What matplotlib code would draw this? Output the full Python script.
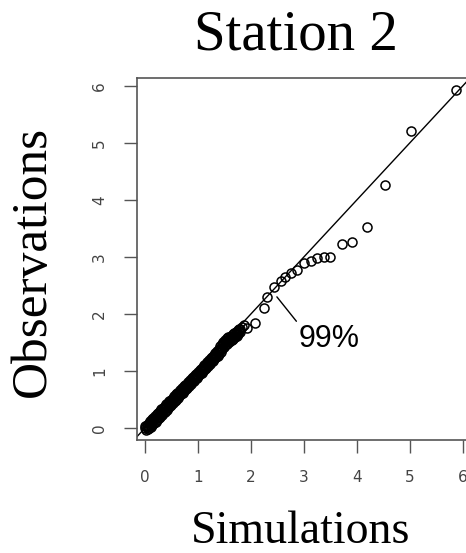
import matplotlib; matplotlib.use("Agg")
import matplotlib.pyplot as plt

# simulated vs observed quantiles, station 2 (dense part read as three overlapping rows)
sim_a = [0.00,0.03,0.06,0.09,0.12,0.15,0.18,0.21,0.24,0.27,0.30,0.33,0.36,0.39,0.42,0.45,
         0.48,0.51,0.54,0.57,0.60,0.63,0.66,0.69,0.72,0.75,0.78,0.81,0.84,0.87,0.90,0.93,
         0.96,0.99,1.02,1.05,1.08,1.11,1.14,1.17,1.20,1.23,1.26,1.29,1.32,1.35,1.38,1.41,
         1.44,1.47,1.50,1.53,1.56,1.59,1.62,1.65,1.68,1.71,1.74,1.77,1.80,1.83,1.86]
obs_a = [0.00,0.01,0.03,0.06,0.09,0.12,0.15,0.17,0.20,0.23,0.26,0.29,0.33,0.36,0.38,0.41,
         0.44,0.47,0.51,0.54,0.56,0.59,0.62,0.65,0.68,0.71,0.74,0.77,0.80,0.83,0.86,0.89,
         0.91,0.94,0.97,1.00,1.03,1.06,1.09,1.12,1.15,1.18,1.21,1.24,1.27,1.30,1.33,1.37,
         1.41,1.45,1.49,1.52,1.55,1.56,1.58,1.60,1.62,1.65,1.68,1.71,1.74,1.77,1.80]
sim_b = [0.02,0.05,0.08,0.11,0.14,0.17,0.20,0.23,0.26,0.29,0.32,0.35,0.38,0.41,0.44,0.47,
         0.50,0.53,0.56,0.59,0.62,0.65,0.68,0.71,0.74,0.77,0.80,0.83,0.86,0.89,0.92,0.95,
         0.98,1.01,1.04,1.07,1.10,1.13,1.16,1.19,1.22,1.25,1.28,1.31,1.34,1.37,1.40,1.43,
         1.46,1.49,1.52,1.55,1.58,1.61,1.64,1.67,1.70,1.73,1.76,1.79]
obs_b = [-0.04,-0.02,0.00,0.02,0.05,0.08,0.11,0.14,0.17,0.20,0.23,0.26,0.29,0.32,0.35,0.38,
         0.41,0.44,0.47,0.50,0.53,0.56,0.59,0.62,0.65,0.68,0.71,0.74,0.77,0.80,0.83,0.86,
         0.88,0.91,0.94,0.97,1.00,1.03,1.06,1.09,1.12,1.15,1.18,1.21,1.24,1.27,1.30,1.34,
         1.38,1.42,1.45,1.48,1.50,1.52,1.54,1.56,1.59,1.62,1.65,1.68]
sim_c = [0.01,0.04,0.07,0.10,0.13,0.16,0.19,0.22,0.25,0.28,0.31,0.34,0.37,0.40,0.43,0.46,
         0.49,0.52,0.55,0.58,0.61,0.64,0.67,0.70,0.73,0.76,0.79,0.82,0.85,0.88,0.91,0.94,
         0.97,1.00,1.03,1.06,1.09,1.12,1.15,1.18,1.21,1.24,1.27,1.30,1.33,1.36,1.39,1.42,
         1.45,1.48,1.51,1.54,1.57,1.60,1.63,1.66,1.69,1.72,1.75,1.78]
obs_c = [0.03,0.06,0.09,0.12,0.15,0.18,0.21,0.24,0.27,0.30,0.33,0.36,0.39,0.42,0.44,0.47,
         0.50,0.53,0.56,0.59,0.61,0.64,0.67,0.70,0.73,0.76,0.78,0.81,0.84,0.87,0.90,0.93,
         0.95,0.98,1.01,1.04,1.07,1.10,1.13,1.16,1.19,1.22,1.25,1.28,1.31,1.35,1.39,1.43,
         1.47,1.51,1.54,1.57,1.59,1.60,1.62,1.64,1.66,1.69,1.72,1.74]
# upper tail, individual points
sim_tail = [1.93,2.08,2.24,2.30,2.43,2.56,2.65,2.75,2.87,3.00,3.13,3.25,3.38,3.50,3.71,3.91,
            4.20,4.53,5.02,5.87]
obs_tail = [1.75,1.84,2.10,2.30,2.48,2.57,2.65,2.71,2.77,2.89,2.93,2.98,2.99,2.99,3.23,3.27,
            3.53,4.26,5.20,5.93]
fit_intercept, fit_slope = 0.0, 1.0
label_text = "99%"
label_point = (2.49, 2.30)
label_pos = (2.90, 1.42)
ticks = [0, 1, 2, 3, 4, 5, 6]

sim = sim_a + sim_b + sim_c + sim_tail
obs = obs_a + obs_b + obs_c + obs_tail

fig = plt.figure(figsize=(4.66, 5.53), dpi=100)
ax = fig.add_axes([0.294, 0.2043, 0.722, 0.655])
ax.set_xlim(-0.15, 6.2); ax.set_ylim(-0.21, 6.14)

ax.plot(sim, obs, 'o', mfc='none', mec='k', ms=6.5, mew=1.1, zorder=3)
ax.axline((0, fit_intercept), slope=fit_slope, color='k', lw=1.0, zorder=2)
ax.annotate(label_text, xy=label_point, xytext=label_pos, ha='left', va='baseline',
            fontsize=22, family='Liberation Sans',
            arrowprops=dict(arrowstyle='-', color='k', lw=1.0, shrinkA=0, shrinkB=0, relpos=(0, 1)))

ax.set_xticks(ticks); ax.set_yticks(ticks)
ax.set_xticklabels([str(t) for t in ticks]); ax.set_yticklabels([str(t) for t in ticks], rotation=90, va='center')
ax.tick_params(length=9.5, width=1, color='#555', labelcolor='#444', labelsize=11, pad=12)
for s in ax.spines.values():
    s.set_color('#555'); s.set_linewidth(1.2)

fig.text(0.635, 0.9096, "Station 2", ha='center', va='baseline', fontsize=41, family='Liberation Serif')
fig.text(0.646, 0.0181, "Simulations", ha='center', va='baseline', fontsize=33, family='Liberation Serif')
fig.text(0.071, 0.528, "Observations", ha='center', va='center', rotation=90, fontsize=37, family='Liberation Serif')

fig.savefig('out.png', dpi=100)
